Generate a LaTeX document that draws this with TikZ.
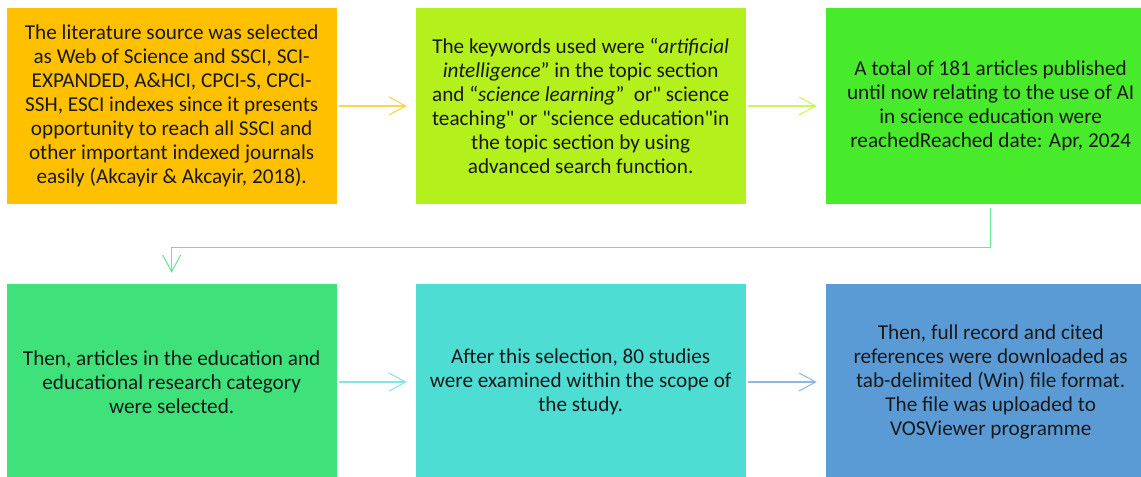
\documentclass[tikz,border=0pt]{standalone}
\usepackage{fontspec}
\setmainfont{Carlito}[Ligatures=TeXOff]
\usepackage{tikz}
\usetikzlibrary{positioning,arrows.meta}

\definecolor{srcorange}{HTML}{FFC000}
\definecolor{kwlime}{HTML}{B3F01C}
\definecolor{totgreen}{HTML}{48EA2C}
\definecolor{selgreen}{HTML}{3FE27A}
\definecolor{studyteal}{HTML}{4EDDD3}
\definecolor{vosblue}{HTML}{5B9BD5}

\begin{document}
\begin{tikzpicture}[
  every node/.style={font=\fontsize{18.1}{20.5}\selectfont, text=black!90},
  stage/.style={minimum width=9.9cm, minimum height=5.88cm, align=center, inner sep=0pt},
  flow/.style={-{Straight Barb[length=5mm,width=5.4mm]}, line width=0.9pt}
]
\useasboundingbox (0,0) rectangle (34.23,-14.28);
% First row
\node[stage, fill=srcorange] (lit) at (5.15, -3.18) {The literature source was selected\\as Web of Science and SSCI, SCI-\\EXPANDED, A\&HCI, CPCI-S, CPCI-\\SSH, ESCI indexes since it presents\\opportunity to reach all SSCI and\\other important indexed journals\\easily (Akcayir \& Akcayir, 2018).};
\node[stage, fill=kwlime] (kw) at (17.42, -3.18) {The keywords used were “\textit{artificial}\\\textit{intelligence}” in the topic section\\and “\textit{science learning}”\ \ or" science\\teaching" or "science education"in\\the topic section by using\\advanced search function.};
\node[stage, fill=totgreen] (tot) at (29.72, -3.18) {A total of 181 articles published\\until now relating to the use of AI\\in science education were\\reachedReached date: Apr, 2024};
% Second row
\node[stage, fill=selgreen] (sel) at (5.15, -11.46) {Then, articles in the education and\\educational research category\\were selected.};
\node[stage, fill=studyteal] (study) at (17.42, -11.46) {After this selection, 80 studies\\were examined within the scope of\\the study.};
\node[stage, fill=vosblue] (vos) at (29.72, -11.46) {Then, full record and cited\\references were downloaded as\\tab-delimited (Win) file format.\\The file was uploaded to\\VOSViewer programme};
% Arrows
\draw[flow, srcorange!70] ([xshift=0.07cm]lit.east) -- ([xshift=-0.26cm]kw.west);
\draw[flow, kwlime!70] ([xshift=0.07cm]kw.east) -- ([xshift=-0.26cm]tot.west);
\draw[flow, selgreen!80] ([yshift=-0.1cm]tot.south) -- ++(0, -1.2) -| ([yshift=0.33cm]sel.north);
\draw[flow, studyteal!70] ([xshift=0.07cm]sel.east) -- ([xshift=-0.26cm]study.west);
\draw[flow, vosblue!70] ([xshift=0.07cm]study.east) -- ([xshift=-0.26cm]vos.west);
\end{tikzpicture}
\end{document}
